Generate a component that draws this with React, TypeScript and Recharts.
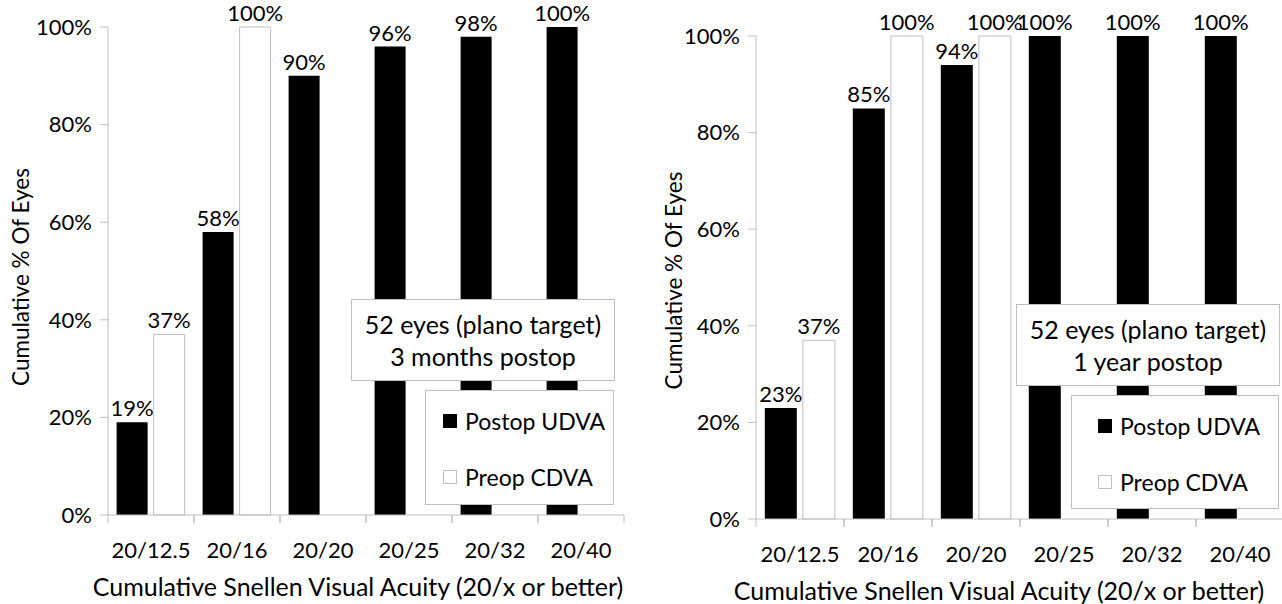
import { BarChart, Bar, XAxis, YAxis, Legend, LabelList } from "recharts";

const categories = ["20/12.5", "20/16", "20/20", "20/25", "20/32", "20/40"];
const postop3m = [19, 58, 90, 96, 98, 100];
const preop3m = [37, 100, null, null, null, null];
const postop1y = [23, 85, 94, 100, 100, 100];
const preop1y = [37, 100, 100, null, null, null];
const yTicks = [0, 20, 40, 60, 80, 100];
const seriesNames = ["Postop UDVA", "Preop CDVA"];
const notes3m = ["52 eyes (plano target)", "3 months postop"];
const notes1y = ["52 eyes (plano target)", "1 year postop"];
const yTitle = "Cumulative % Of Eyes";
const xTitle = "Cumulative Snellen Visual Acuity (20/x or better)";

const FONT = "Lato, 'Open Sans', sans-serif";
const GREY = "#bfbfbf";
const FS = 22;
const swatchFill = ["#000000", "#ffffff"];
const swatchStroke = ["#000000", GREY];

type Box = { left: number; top: number; width: number; height: number };

interface PanelProps {
  x: number;
  width: number;
  top: number;
  yAxisWidth: number;
  xAxisHeight: number;
  postop: (number | null)[];
  preop: (number | null)[];
  notes: string[];
  noteBox: Box;
  legendBox: Box;
  legendPad: number;
  yTitleX: number;
  yTitleDy: number;
  xTitleDx: number;
}

const pct = (v: unknown) => (v == null ? "" : `${v}%`);

function Panel(p: PanelProps) {
  const data = categories.map((c, i) => ({ cat: c, postop: p.postop[i], preop: p.preop[i] }));
  const height = 604;
  const rightMargin = 16;
  const plotWidth = p.width - rightMargin - p.yAxisWidth;
  const band = plotWidth / categories.length;

  const tick = (props: any) => {
    const { x, y, payload } = props;
    return (
      <g>
        <line x1={x - band / 2} x2={x - band / 2} y1={y} y2={y + 8} stroke={GREY} />
        <line x1={x + band / 2} x2={x + band / 2} y1={y} y2={y + 8} stroke={GREY} />
        <text x={x} y={y + 34} textAnchor="middle" dominantBaseline="central" fill="#000" fontSize={FS} fontFamily={FONT}>
          {payload.value}
        </text>
      </g>
    );
  };

  const legend = (props: any) => (
    <div
      style={{
        boxSizing: "border-box",
        width: p.legendBox.width,
        height: p.legendBox.height,
        border: `1px solid ${GREY}`,
        background: "#fff",
        paddingLeft: p.legendPad,
        paddingTop: 18,
        fontFamily: FONT,
        fontSize: 23,
        color: "#000",
      }}
    >
      {(props.payload || []).map((entry: any, i: number) => (
        <div key={i} style={{ display: "flex", alignItems: "center", height: 24, marginBottom: i === 0 ? 32 : 0 }}>
          <span
            style={{
              display: "inline-block",
              boxSizing: "border-box",
              width: 14,
              height: 14,
              background: swatchFill[i],
              border: `1px solid ${swatchStroke[i]}`,
              marginRight: 8,
            }}
          />
          <span>{entry.value}</span>
        </div>
      ))}
    </div>
  );

  return (
    <div style={{ position: "absolute", left: p.x, top: 0, width: p.width, height }}>
      <BarChart
        width={p.width}
        height={height}
        data={data}
        margin={{ top: p.top, right: rightMargin, bottom: 0, left: 0 }}
        barCategoryGap="10%"
        barGap={6}
        style={{ fontFamily: FONT }}
      >
        <XAxis
          dataKey="cat"
          height={p.xAxisHeight}
          axisLine={{ stroke: GREY }}
          tickLine={false}
          tickSize={0}
          tickMargin={0}
          interval={0}
          tick={tick}
          label={(lp: any) => {
            const vb = lp.viewBox;
            return (
              <text
                x={vb.x + vb.width / 2 + p.xTitleDx}
                y={vb.y + 71}
                textAnchor="middle"
                dominantBaseline="central"
                fill="#000"
                fontSize={25}
                fontFamily={FONT}
              >
                {xTitle}
              </text>
            );
          }}
        />
        <YAxis
          width={p.yAxisWidth}
          domain={[0, 100]}
          ticks={yTicks}
          tickFormatter={(v) => `${v}%`}
          axisLine={{ stroke: GREY }}
          tickLine={{ stroke: GREY }}
          tickSize={8}
          tickMargin={8}
          tick={{ fill: "#000", fontSize: FS, fontFamily: FONT }}
          label={(lp: any) => {
            const vb = lp.viewBox;
            const cx = vb.x + p.yTitleX;
            const cy = vb.y + vb.height / 2 + p.yTitleDy;
            return (
              <text
                x={cx}
                y={cy}
                transform={`rotate(-90 ${cx} ${cy})`}
                textAnchor="middle"
                dominantBaseline="central"
                fill="#000"
                fontSize={22.5}
                fontFamily={FONT}
              >
                {yTitle}
              </text>
            );
          }}
        />
        <Legend
          layout="vertical"
          align="center"
          verticalAlign="middle"
          content={legend}
          wrapperStyle={{
            left: p.legendBox.left,
            top: p.legendBox.top,
            width: p.legendBox.width,
            height: p.legendBox.height,
          }}
        />
        <Bar dataKey="postop" name={seriesNames[0]} fill="#000000" isAnimationActive={false}>
          <LabelList dataKey="postop" position="top" offset={6} formatter={pct} fill="#000" fontSize={FS} fontFamily={FONT} />
        </Bar>
        <Bar dataKey="preop" name={seriesNames[1]} fill="#ffffff" stroke={GREY} strokeWidth={1} isAnimationActive={false}>
          <LabelList dataKey="preop" position="top" offset={6} formatter={pct} fill="#000" fontSize={FS} fontFamily={FONT} />
        </Bar>
      </BarChart>
      <div
        style={{
          position: "absolute",
          left: p.noteBox.left,
          top: p.noteBox.top,
          width: p.noteBox.width,
          height: p.noteBox.height,
          boxSizing: "border-box",
          border: `1px solid ${GREY}`,
          background: "#fff",
          display: "flex",
          flexDirection: "column",
          justifyContent: "center",
          alignItems: "center",
          fontFamily: FONT,
          fontSize: 25,
          lineHeight: "32px",
          color: "#000",
          whiteSpace: "nowrap",
        }}
      >
        {p.notes.map((n) => (
          <div key={n}>{n}</div>
        ))}
      </div>
    </div>
  );
}

export default function App() {
  return (
    <div
      style={{
        position: "fixed",
        left: 0,
        top: 0,
        width: 1282,
        height: 604,
        overflow: "hidden",
        background: "#fff",
      }}
    >
      <Panel
        x={0}
        width={640}
        top={27}
        yAxisWidth={108}
        xAxisHeight={89}
        postop={postop3m}
        preop={preop3m}
        notes={notes3m}
        noteBox={{ left: 351, top: 299, width: 264, height: 82 }}
        legendBox={{ left: 425, top: 390, width: 189, height: 115 }}
        legendPad={17}
        yTitleX={20}
        yTitleDy={6}
        xTitleDx={-8}
      />
      <Panel
        x={640}
        width={660}
        top={36}
        yAxisWidth={116}
        xAxisHeight={85}
        postop={postop1y}
        preop={preop1y}
        notes={notes1y}
        noteBox={{ left: 376, top: 304, width: 264, height: 82 }}
        legendBox={{ left: 431, top: 395, width: 208, height: 114 }}
        legendPad={26}
        yTitleX={33}
        yTitleDy={3}
        xTitleDx={-21}
      />
    </div>
  );
}
